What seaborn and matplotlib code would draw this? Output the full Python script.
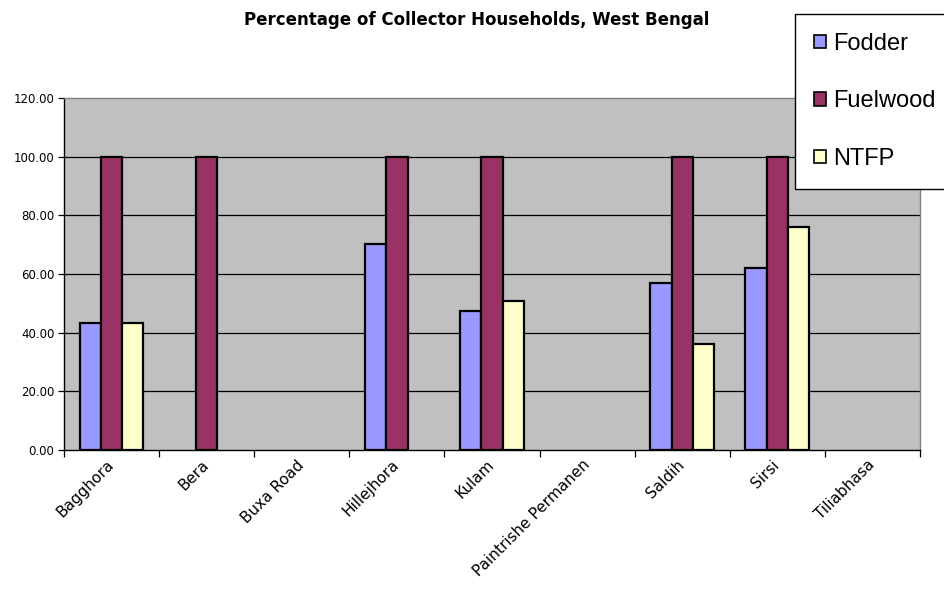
import numpy as np
import pandas as pd
import matplotlib
matplotlib.use("Agg")
import matplotlib.pyplot as plt
from matplotlib.ticker import FixedLocator, FixedFormatter
import seaborn as sns

# Villages surveyed and share of households collecting each product (%)
villages = ["Bagghora", "Bera", "Buxa Road", "Hillejhora", "Kulam",
            "Paintrishe Permanen", "Saldih", "Sirsi", "Tiliabhasa"]
fodder = [43.3, np.nan, np.nan, 70.2, 47.3, np.nan, 57.1, 61.9, np.nan]
fuelwood = [100.0, 100.0, np.nan, 100.0, 100.0, np.nan, 100.0, 100.0, np.nan]
ntfp = [43.3, np.nan, np.nan, np.nan, 50.7, np.nan, 36.0, 76.1, np.nan]
products = ["Fodder", "Fuelwood", "NTFP"]
colors = ["#9999FF", "#993366", "#FFFFCC"]
y_ticks = [0, 20, 40, 60, 80, 100, 120]

df = pd.DataFrame({"Village": villages, "Fodder": fodder,
                   "Fuelwood": fuelwood, "NTFP": ntfp})
long_df = df.melt(id_vars="Village", var_name="Product", value_name="Percent")

sns.set_style("white")
plt.rcParams["font.family"] = ["DejaVu Sans"]
plt.rcParams["text.color"] = "black"
plt.rcParams["xtick.color"] = "black"
plt.rcParams["ytick.color"] = "black"
plt.rcParams["axes.labelcolor"] = "black"

fig = plt.figure(figsize=(9.45, 5.90), dpi=100)
ax = fig.add_axes([64 / 945, 1 - 450 / 590, 856 / 945, 352 / 590])
ax.set_facecolor("#C0C0C0")

sns.barplot(data=long_df, x="Village", y="Percent", hue="Product",
            order=villages, hue_order=products, palette=colors,
            width=0.67, errorbar=None, edgecolor="black", linewidth=1.6,
            saturation=1, ax=ax, zorder=3)

ax.set_xlim(-0.5, len(villages) - 0.5)
ax.set_ylim(0, 120)

# y axis: two-decimal labels and black gridlines
ax.set_yticks(y_ticks)
ax.set_yticklabels([f"{v:.2f}" for v in y_ticks], fontsize=8.5)
ax.yaxis.grid(True, color="black", linewidth=0.9, zorder=0)
ax.set_axisbelow(True)
ax.get_ygridlines()[-1].set_visible(False)
ax.get_ygridlines()[0].set_visible(False)
ax.tick_params(axis="y", direction="out", length=4, width=0.9, color="black",
               left=True, pad=3)

# x axis: tick marks between categories, labels at category centres
ax.xaxis.set_major_locator(FixedLocator(np.arange(-0.5, len(villages), 1.0)))
ax.xaxis.set_major_formatter(FixedFormatter([""] * (len(villages) + 1)))
ax.xaxis.set_minor_locator(FixedLocator(np.arange(len(villages))))
ax.xaxis.set_minor_formatter(FixedFormatter(villages))
ax.tick_params(axis="x", which="major", direction="out", length=5, width=0.9,
               color="black", bottom=True)
ax.tick_params(axis="x", which="minor", length=0, pad=9)
for lbl in ax.get_xticklabels(minor=True):
    lbl.set_rotation(45)
    lbl.set_ha("right")
    lbl.set_va("center")
    lbl.set_rotation_mode("anchor")
    lbl.set_fontsize(11)
ax.set_xlabel("")
ax.set_ylabel("")

for side in ("top", "right"):
    ax.spines[side].set_color("#808080")
    ax.spines[side].set_linewidth(1.0)
for side in ("left", "bottom"):
    ax.spines[side].set_color("black")
    ax.spines[side].set_linewidth(1.0)

fig.text(477 / 945, 1 - 20 / 590, "Percentage of Collector Households, West Bengal",
         ha="center", va="center", fontsize=12, fontweight="bold")

ax.get_legend().remove()
handles = [plt.Rectangle((0, 0), 1, 1, facecolor=c, edgecolor="black", linewidth=1.2)
           for c in colors]
leg = fig.legend(handles, products, loc="upper left",
                 bbox_to_anchor=(795 / 945, 1 - 14 / 590),
                 prop={"family": "Liberation Sans", "size": 17},
                 frameon=True, fancybox=False, edgecolor="black", framealpha=1,
                 handlelength=0.5, handleheight=0.5, handletextpad=0.3,
                 labelspacing=1.5, borderpad=0.8, borderaxespad=0)
leg.get_frame().set_linewidth(1.0)

fig.savefig("out.png", dpi=100)
